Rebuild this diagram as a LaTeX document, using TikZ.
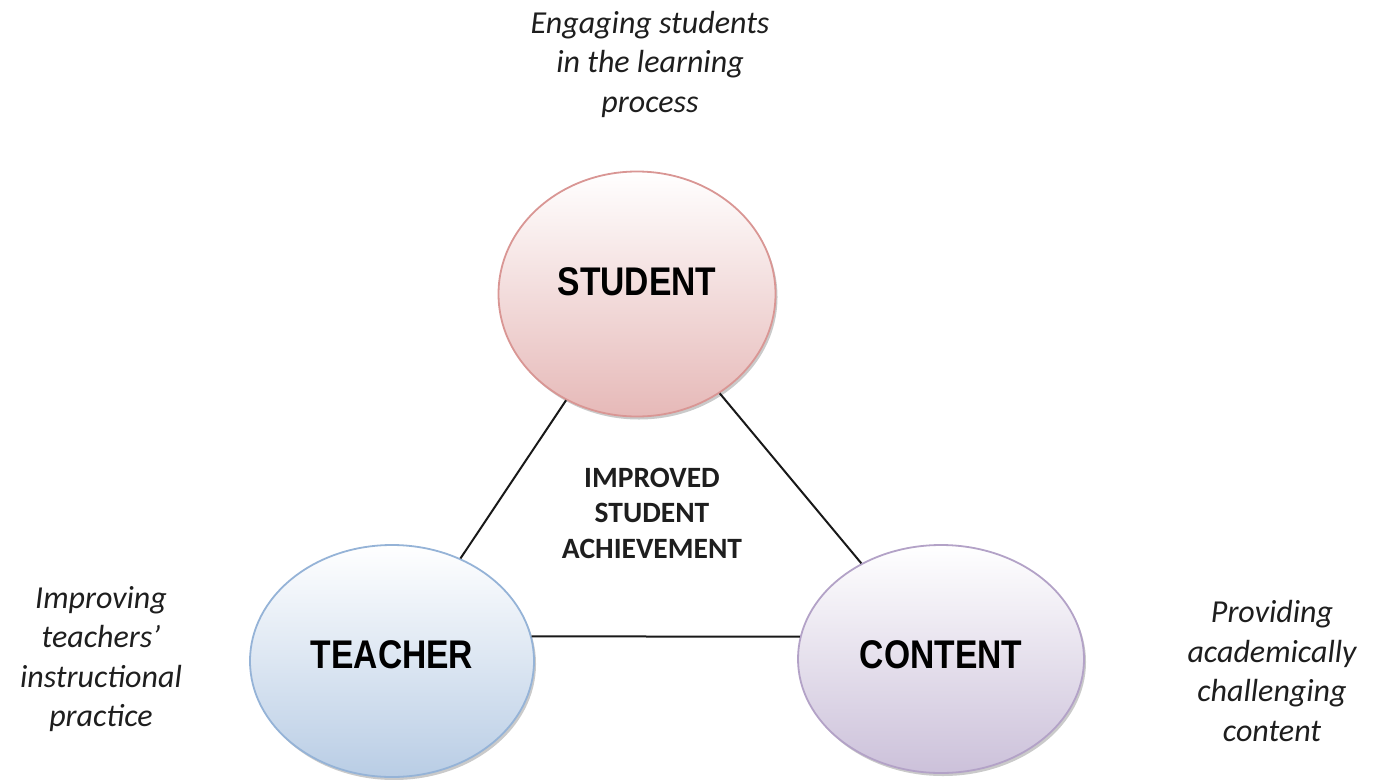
\documentclass[tikz,border=0pt]{standalone}
\usepackage{fontspec}
\setmainfont{Carlito}
\newfontfamily\labelfont{Liberation Sans}[FakeStretch=0.84]
\usetikzlibrary{shapes.geometric,shadows}
\definecolor{txt}{HTML}{1E1E1E}
\definecolor{stuB}{HTML}{E6B9B8}
\definecolor{stuD}{HTML}{D99694}
\definecolor{teaB}{HTML}{B9CDE5}
\definecolor{teaD}{HTML}{95B3D7}
\definecolor{conB}{HTML}{CCC1DA}
\definecolor{conD}{HTML}{B3A2C7}
\tikzset{
  bubble/.style={ellipse, inner sep=0pt, line width=1.8pt, top color=white,
    drop shadow={shadow xshift=2pt, shadow yshift=-3pt, opacity=0.35, fill=black!60}},
  biglabel/.style={font=\labelfont\bfseries\fontsize{40}{44}\selectfont, text=black},
  note/.style={font=\itshape\fontsize{32}{39.5}\selectfont, align=center, text=txt},
  centre/.style={font=\bfseries\fontsize{29.5}{35.5}\selectfont, align=center, text=txt},
  link/.style={line width=2pt, draw=black!90}
}
\begin{document}
\begin{tikzpicture}[x=1pt,y=-1pt]
\useasboundingbox (0,0) rectangle (1380,779);
\node[bubble, draw=stuD, bottom color=stuB, minimum width=277pt, minimum height=245pt] (student) at (637,294) {};
\node[bubble, draw=teaD, bottom color=teaB, minimum width=284pt, minimum height=232pt] (teacher) at (392,661) {};
\node[bubble, draw=conD, bottom color=conB, minimum width=286pt, minimum height=228pt] (content) at (941,659) {};
\node[biglabel] (lstudent) at ([yshift=12pt]student.center) {STUDENT};
\node[biglabel] (lteacher) at ([yshift=6pt]teacher.center) {TEACHER};
\node[biglabel] (lcontent) at ([yshift=4pt]content.center) {CONTENT};
\draw[link] (student) -- (teacher);
\draw[link] (student) -- (content);
\draw[link] (teacher.10) -- (content.171);
\node[centre] (achieve) at (652,513) {IMPROVED\\STUDENT\\ACHIEVEMENT};
\node[note] (ntop) at (650,64) {Engaging students\\in the learning\\process};
\node[note] (nleft) at (101,659) {Improving\\teachers’\\instructional\\practice};
\node[note] (nright) at (1272,671) {Providing\\academically\\challenging\\content};
\end{tikzpicture}
\end{document}
